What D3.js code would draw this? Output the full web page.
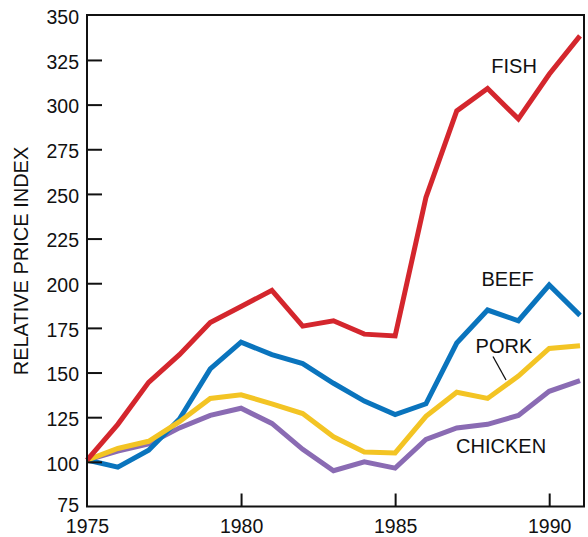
<!DOCTYPE html>
<meta charset="utf-8">
<style>
    body { margin: 0; background: #fff; }
    text { font-family: "Liberation Sans", Arial, sans-serif; fill: #111; }
    .series { fill: none; stroke-width: 5px; stroke-linejoin: miter; stroke-linecap: butt; }
</style>
<svg width="588" height="537">
    <rect fill="#fff" width="100%" height="100%"></rect>
</svg>
<script src="https://cdn.jsdelivr.net/npm/d3@7"></script>
<script>

    // years on the x axis
    var years = d3.range(1975, 1992);

    // relative price index
    var fish    = [101, 121, 144.5, 160, 178, 187, 196, 176, 179, 171.5, 170.5, 248, 296.5, 309, 292, 317, 338.5];
    var beef    = [101, 97, 106.5, 124, 152, 167, 160, 155, 144, 134, 126.5, 132.5, 166.5, 185, 179, 199, 182];
    var pork    = [101, 107.5, 111.5, 122.5, 135.5, 137.5, 132.5, 127, 114, 105.5, 105, 125.5, 139, 135.5, 148, 163.5, 165];
    var chicken = [101, 106, 110, 119, 126, 130, 121.5, 107, 95, 100, 96.5, 112.5, 119, 121, 126, 139.5, 145.5];

    var yTicks = [75, 100, 125, 150, 175, 200, 225, 250, 275, 300, 325, 350];
    var xTicks = [1975, 1980, 1985, 1990];

    var svg = d3.select("svg");

    var x = d3.scaleLinear().domain([1975, 1991]).range([87, 580]);
    var y = d3.scaleLinear().domain([75, 350]).range([506.5, 15.3]);

    var line = d3.line()
            .x(function (d, i) { return x(years[i]); })
            .y(function (d) { return y(d); });

    // drawing order: bottom lines first, fish on top
    var series = [
        {name: "CHICKEN", values: chicken, color: "#8a6bb3"},
        {name: "BEEF", values: beef, color: "#0a74bd"},
        {name: "PORK", values: pork, color: "#f3c424"},
        {name: "FISH", values: fish, color: "#d4262d"}
    ];

    svg.selectAll("path.series")
            .data(series)
            .enter().append("path")
            .attr("class", "series")
            .attr("stroke", function (d) { return d.color; })
            .attr("d", function (d) { return line(d.values); });

    // frame
    svg.append("rect")
            .attr("x", 87).attr("y", 15)
            .attr("width", 497).attr("height", 491.5)
            .attr("fill", "none")
            .attr("stroke", "#111")
            .attr("stroke-width", 2);

    // y axis ticks point inwards
    var yAxis = d3.axisLeft(y)
            .tickValues(yTicks)
            .tickSize(-15)
            .tickPadding(8);
    svg.append("g")
            .attr("transform", "translate(87,0)")
            .call(yAxis)
            .call(function (g) {
                g.select(".domain").remove();
                g.selectAll(".tick line").attr("stroke", "#111").attr("stroke-width", 2)
                        .filter(function (d) { return d === 75 || d === 350; }).remove();
                g.selectAll(".tick text")
                        .attr("font-size", 19.5)
                        .attr("font-family", "Liberation Sans, Arial, sans-serif")
                        .attr("fill", "#111")
                        .attr("dy", function (d) { return d === 75 ? "0.25em" : "0.42em"; });
            });

    var xAxis = d3.axisBottom(x)
            .tickValues(xTicks)
            .tickFormat(d3.format("d"))
            .tickSize(-13)
            .tickPadding(8);
    svg.append("g")
            .attr("transform", "translate(0,506.5)")
            .call(xAxis)
            .call(function (g) {
                g.select(".domain").remove();
                g.selectAll(".tick line").attr("stroke", "#111").attr("stroke-width", 2)
                        .filter(function (d) { return d === 1975; }).remove();
                g.selectAll(".tick text")
                        .attr("font-size", 19.5)
                        .attr("font-family", "Liberation Sans, Arial, sans-serif")
                        .attr("fill", "#111")
                        .attr("dy", "0.94em");
            });

    // axis title
    svg.append("text")
            .attr("transform", "translate(28,261) rotate(-90)")
            .attr("text-anchor", "middle")
            .attr("font-size", 20)
            .text("RELATIVE PRICE INDEX");

    // series labels
    var labels = [
        {text: "FISH", year: 1988.86, value: 317.7},
        {text: "BEEF", year: 1988.65, value: 198.5},
        {text: "PORK", year: 1988.53, value: 161.2},
        {text: "CHICKEN", year: 1988.44, value: 104.9}
    ];
    svg.selectAll("text.label")
            .data(labels)
            .enter().append("text")
            .attr("class", "label")
            .attr("x", function (d) { return x(d.year); })
            .attr("y", function (d) { return y(d.value); })
            .attr("text-anchor", "middle")
            .attr("font-size", 20)
            .text(function (d) { return d.text; });

    // leader line from PORK to its line
    svg.append("line")
            .attr("x1", 493).attr("y1", 356.5)
            .attr("x2", 506).attr("y2", 380)
            .attr("stroke", "#111")
            .attr("stroke-width", 1.3);

</script>
